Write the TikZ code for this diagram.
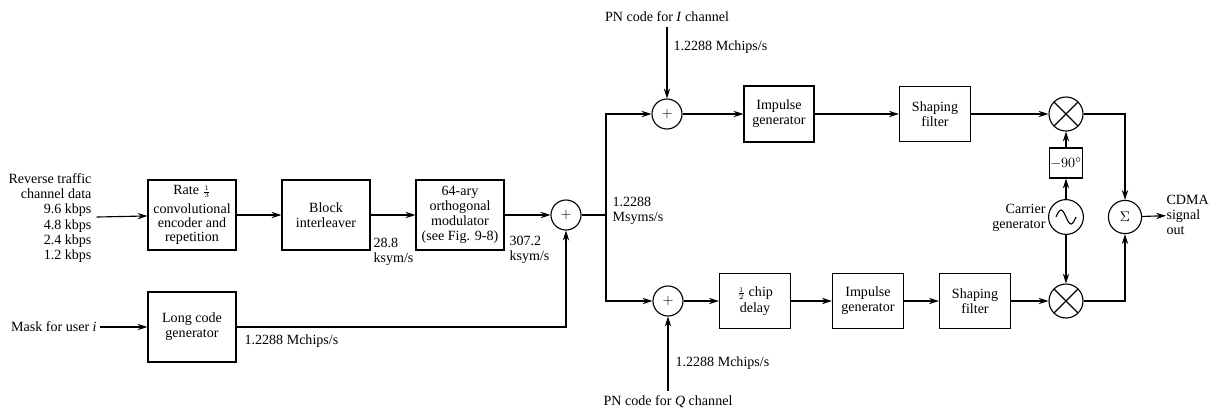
\documentclass[tikz,border=0pt]{standalone}
\usepackage{amsmath}
\usepackage{fontspec}
\setmainfont{Liberation Serif}
\usetikzlibrary{arrows.meta}
\def\rowI{114}
\def\rowM{215}
\def\rowQ{301}
\def\rowL{327}

\begin{document}
\begin{tikzpicture}[x=0.025cm,y=-0.025cm,line width=0.8pt,
  font=\fontsize{10}{10.8}\selectfont,
  arr/.style={-{Stealth[length=7pt,width=4.5pt]}},
  bigbox/.style={draw,align=center,minimum width=2.2cm,minimum height=1.75cm,inner sep=1pt},
  smallbox/.style={draw,align=center,minimum width=1.78cm,minimum height=1.38cm,inner sep=1pt},
  adder/.style={draw,circle,minimum size=0.75cm,inner sep=0pt},
  mixer/.style={draw,circle,minimum size=0.85cm,inner sep=0pt,
    path picture={\draw (path picture bounding box.north west) -- (path picture bounding box.south east)
      (path picture bounding box.south west) -- (path picture bounding box.north east);}},
  lbl/.style={align=left,inner sep=0pt}]
\useasboundingbox (0,0) rectangle (1219,410);
% the input side
\node[align=right] (data) at (50,218) {Reverse traffic\\channel data\\9.6 kbps\\4.8 kbps\\2.4 kbps\\1.2 kbps};
\node[bigbox,font=\fontsize{10}{10.2}\selectfont] (rate) at (192,\rowM) {Rate $\scriptstyle\frac{1}{3}$\\[3pt]convolutional\\encoder and\\repetition};
\node[bigbox] (block) at (326,\rowM) {Block\\interleaver};
\node[bigbox] (mod) at (460,\rowM) {64-ary\\orthogonal\\modulator\\(see Fig. 9-8)};
\node[adder] (addm) at (566,\rowM) {$+$};
\node[lbl,anchor=west] at (373,252) {28.8\\ksym/s};
\node[lbl,anchor=west] at (509,250) {307.2\\ksym/s};
\node[lbl,anchor=west] at (612,211) {1.2288\\Msyms/s};
% the long code
\node[anchor=east,inner sep=2pt] (mask) at (100,\rowL) {Mask for user \textit{i}};
\node[bigbox] (lcg) at (192,\rowL) {Long code\\generator};
\node[lbl,anchor=west] at (244,341) {1.2288 Mchips/s};
\coordinate (jct) at (606,\rowM);
\draw[arr] (data) -- (rate);
\draw[arr] (rate) -- (block);
\draw[arr] (block) -- (mod);
\draw[arr] (mod) -- (addm);
\draw[arr] (mask) -- (lcg);
\draw[arr] (lcg.east) -| (addm.south);
\draw (addm) -- (jct);
% the I channel
\node (pnI) at (667,17) {PN code for \textit{I} channel};
\node[lbl,anchor=west] at (673,47) {1.2288 Mchips/s};
\node[adder] (addI) at (667,\rowI) {$+$};
\node[smallbox,minimum width=1.75cm,minimum height=1.4cm] (impI) at (779,\rowI) {Impulse\\generator};
\node[smallbox] (shpI) at (935,\rowI) {Shaping\\filter};
\node[mixer] (mixI) at (1066,\rowI) {};
\draw[arr] (jct) |- (addI);
\draw[arr] (pnI) -- (addI);
\draw[arr] (addI) -- (impI);
\draw[arr] (impI) -- (shpI);
\draw[arr] (shpI) -- (mixI);
% the Q channel
\node (pnQ) at (668,402) {PN code for \textit{Q} channel};
\node[lbl,anchor=west] at (675,363) {1.2288 Mchips/s};
\node[adder] (addQ) at (668,\rowQ) {$+$};
\node[smallbox] (chip) at (755,\rowQ) {$\scriptstyle\frac{1}{2}$ chip\\[1pt]delay};
\node[smallbox] (impQ) at (868,\rowQ) {Impulse\\generator};
\node[smallbox] (shpQ) at (975,\rowQ) {Shaping\\filter};
\node[mixer] (mixQ) at (1066,\rowQ) {};
\draw[arr] (jct) |- (addQ);
\draw[arr] (pnQ) -- (addQ);
\draw[arr] (addQ) -- (chip);
\draw[arr] (chip) -- (impQ);
\draw[arr] (impQ) -- (shpQ);
\draw[arr] (shpQ) -- (mixQ);
% the carrier and the sum
\node[draw,circle,minimum size=0.87cm,inner sep=0pt] (car) at (1066,217) {};
\draw (car.center) ++(-10,0) sin ++(5,-7) cos ++(5,7) sin ++(5,7) cos ++(5,-7);
\node[lbl,align=right,anchor=east] at (1046,218) {Carrier\\generator};
\node[draw,minimum width=0.82cm,minimum height=0.75cm,inner sep=0pt] (shift) at (1066,163) {$-90^\circ$};
\node[adder,minimum size=0.83cm] (sum) at (1125,217) {$\Sigma$};
\node[lbl,anchor=west] (out) at (1166,215) {CDMA\\signal\\out};
\draw[arr] (car) -- (shift);
\draw[arr] (shift) -- (mixI);
\draw[arr] (car) -- (mixQ);
\draw[arr] (mixI.east) -| (sum.north);
\draw[arr] (mixQ.east) -| (sum.south);
\draw[arr] (sum) -- (out);
\end{tikzpicture}
\end{document}
